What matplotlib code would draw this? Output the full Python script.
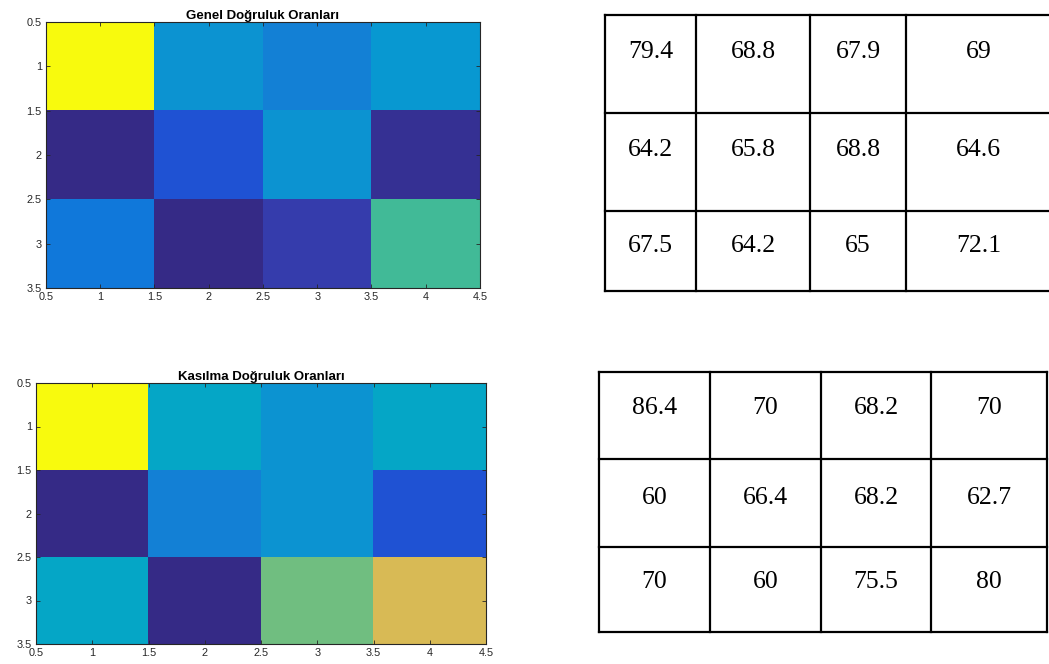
import numpy as np
import matplotlib
matplotlib.use("Agg")
import matplotlib.pyplot as plt
from matplotlib.colors import ListedColormap

# Accuracy rates (rows x columns)
genel = [
    [79.4, 68.8, 67.9, 69],
    [64.2, 65.8, 68.8, 64.6],
    [67.5, 64.2, 65, 72.1],
]
kasilma = [
    [86.4, 70, 68.2, 70],
    [60, 66.4, 68.2, 62.7],
    [70, 60, 75.5, 80],
]
titles = ["Genel Doğruluk Oranları", "Kasılma Doğruluk Oranları"]
xticks = [0.5, 1, 1.5, 2, 2.5, 3, 3.5, 4, 4.5]
yticks = [0.5, 1, 1.5, 2, 2.5, 3, 3.5]

# MATLAB parula, 64 entries
parula = ListedColormap([
    [0.2081, 0.1663, 0.5292], [0.2116, 0.1898, 0.5777], [0.2123, 0.2138, 0.6270],
    [0.2081, 0.2386, 0.6771], [0.1959, 0.2645, 0.7279], [0.1707, 0.2919, 0.7792],
    [0.1253, 0.3242, 0.8303], [0.0591, 0.3598, 0.8683], [0.0117, 0.3875, 0.8820],
    [0.0060, 0.4086, 0.8828], [0.0165, 0.4266, 0.8786], [0.0329, 0.4430, 0.8720],
    [0.0498, 0.4586, 0.8641], [0.0629, 0.4737, 0.8554], [0.0723, 0.4887, 0.8467],
    [0.0779, 0.5040, 0.8384], [0.0793, 0.5200, 0.8312], [0.0749, 0.5375, 0.8263],
    [0.0641, 0.5570, 0.8240], [0.0488, 0.5772, 0.8228], [0.0343, 0.5966, 0.8199],
    [0.0265, 0.6137, 0.8135], [0.0239, 0.6287, 0.8038], [0.0231, 0.6418, 0.7913],
    [0.0228, 0.6535, 0.7768], [0.0267, 0.6642, 0.7607], [0.0384, 0.6743, 0.7436],
    [0.0590, 0.6838, 0.7254], [0.0843, 0.6928, 0.7062], [0.1133, 0.7015, 0.6859],
    [0.1453, 0.7098, 0.6646], [0.1801, 0.7177, 0.6424], [0.2178, 0.7250, 0.6193],
    [0.2586, 0.7317, 0.5954], [0.3022, 0.7376, 0.5712], [0.3482, 0.7424, 0.5473],
    [0.3953, 0.7459, 0.5244], [0.4420, 0.7481, 0.5033], [0.4871, 0.7491, 0.4840],
    [0.5300, 0.7491, 0.4661], [0.5709, 0.7485, 0.4494], [0.6099, 0.7473, 0.4337],
    [0.6473, 0.7456, 0.4188], [0.6834, 0.7435, 0.4044], [0.7184, 0.7411, 0.3905],
    [0.7525, 0.7384, 0.3768], [0.7858, 0.7356, 0.3633], [0.8185, 0.7327, 0.3498],
    [0.8507, 0.7299, 0.3360], [0.8824, 0.7274, 0.3217], [0.9139, 0.7258, 0.3063],
    [0.9450, 0.7261, 0.2886], [0.9739, 0.7314, 0.2666], [0.9938, 0.7455, 0.2403],
    [0.9990, 0.7653, 0.2164], [0.9955, 0.7861, 0.1967], [0.9880, 0.8066, 0.1794],
    [0.9789, 0.8271, 0.1633], [0.9697, 0.8481, 0.1475], [0.9626, 0.8705, 0.1309],
    [0.9589, 0.8949, 0.1132], [0.9598, 0.9218, 0.0948], [0.9661, 0.9514, 0.0755],
    [0.9763, 0.9831, 0.0538],
], name="parula")

W, H = 1049, 664
fig = plt.figure(figsize=(W / 100, H / 100), dpi=100)


def px_axes(left, top, right, bottom):
    return fig.add_axes([left / W, 1 - bottom / H, (right - left) / W, (bottom - top) / H])


def heatmap(rect, data, title):
    ax = px_axes(*rect)
    arr = np.array(data, dtype=float)
    ax.imshow(arr, cmap=parula, vmin=arr.min(), vmax=arr.max(),
              extent=(0.5, arr.shape[1] + 0.5, arr.shape[0] + 0.5, 0.5),
              aspect="auto", interpolation="nearest")
    ax.set_xlim(0.5, arr.shape[1] + 0.5)
    ax.set_ylim(arr.shape[0] + 0.5, 0.5)
    ax.set_xticks(xticks)
    ax.set_yticks(yticks)
    ax.set_xticklabels([f"{t:g}" for t in xticks])
    ax.set_yticklabels([f"{t:g}" for t in yticks])
    ax.tick_params(direction="in", length=3, width=0.6, color="#262626",
                   labelsize=7.8, labelcolor="#262626", top=True, right=True, pad=3)
    for lab in ax.get_xticklabels() + ax.get_yticklabels():
        lab.set_family("Liberation Sans")
    for s in ax.spines.values():
        s.set_linewidth(0.8)
        s.set_color("#262626")
    ax.set_title(title, fontsize=9.5, fontweight="bold", family="Liberation Sans", pad=2)
    return ax


heatmap((46, 22, 480, 288), genel, titles[0])
heatmap((36, 383, 486, 644), kasilma, titles[1])

# Full-figure overlay in pixel coordinates for the value tables
overlay = fig.add_axes([0, 0, 1, 1])
overlay.set_xlim(0, W)
overlay.set_ylim(H, 0)
overlay.axis("off")


def table(xs, ys, data, text_rows):
    for x in xs:
        overlay.plot([x, x], [ys[0], ys[-1]], color="black", lw=1.6,
                     solid_capstyle="projecting")
    for y in ys:
        overlay.plot([xs[0], xs[-1]], [y, y], color="black", lw=1.6,
                     solid_capstyle="projecting")
    for i, row in enumerate(data):
        for j, v in enumerate(row):
            cx = (xs[j] + xs[j + 1]) / 2
            overlay.text(cx, text_rows[i], f"{v:g}", ha="center", va="center_baseline",
                         fontsize=18.5, family="Liberation Serif", color="black")


table([605, 696, 810, 906, 1051], [15, 113, 211, 291], genel, [49, 147, 244])
table([599, 710, 821, 931, 1047], [372, 459, 547, 632], kasilma, [406, 495, 580])

fig.savefig("out.png", dpi=100)
